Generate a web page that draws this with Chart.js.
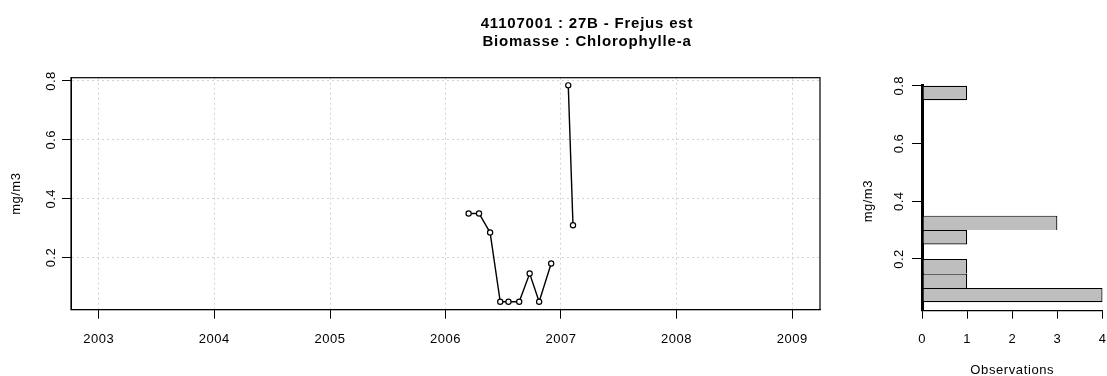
<!DOCTYPE html>
<html>
<head>
<meta charset="utf-8">
<title>41107001 : 27B - Frejus est</title>
<script src="https://cdn.jsdelivr.net/npm/chart.js@4.4.1/dist/chart.umd.min.js"></script>
<style>
  html, body { margin: 0; padding: 0; background: #fff; }
  #wrap { position: relative; width: 1107px; height: 376px; overflow: hidden; }
  #wrap canvas { position: absolute; left: 0; top: 0; }
</style>
</head>
<body>
<div id="wrap">
  <canvas id="series" width="1107" height="376"></canvas>
  <canvas id="hist" width="1107" height="376"></canvas>
</div>
<script>
// Station 41107001 (27B - Frejus est), chlorophyll-a biomass, mg/m3
const sampleDates = ['2006-03-15', '2006-04-17', '2006-05-22', '2006-06-23', '2006-07-19',
                     '2006-08-22', '2006-09-24', '2006-10-24', '2006-12-01', '2007-01-24',
                     '2007-02-08'];
const chlA = [0.35, 0.35, 0.285, 0.05, 0.05, 0.05, 0.146, 0.05, 0.18, 0.785, 0.31];

// Axis ticks
const yearTicks = [2003, 2004, 2005, 2006, 2007, 2008, 2009];
const concTicks = [0.2, 0.4, 0.6, 0.8];
const countTicks = [0, 1, 2, 3, 4];

// Histogram bin edges (mg/m3)
const binEdges = [0.05, 0.1, 0.15, 0.2, 0.25, 0.3, 0.35, 0.4, 0.45, 0.5, 0.55, 0.6,
                  0.65, 0.7, 0.75, 0.8];

const DAY = 86400000;
const toDay = s => { const [y, m, d] = s.split('-').map(Number); return Date.UTC(y, m - 1, d) / DAY; };
const yearStart = y => Date.UTC(y, 0, 1) / DAY;
const yearOfDay = d => new Date(d * DAY).getUTCFullYear();

// time axis spans the tick years, padded by 4% on each side
const span = yearStart(yearTicks[yearTicks.length - 1]) - yearStart(yearTicks[0]);
const xMin = yearStart(yearTicks[0]) - 0.04 * span;
const xMax = yearStart(yearTicks[yearTicks.length - 1]) + 0.04 * span;

const points = sampleDates.map((s, i) => ({ x: toDay(s), y: chlA[i] }));

// counts per bin, right-closed intervals (first bin includes its lower edge)
const binCounts = binEdges.slice(0, -1).map((lo, i) => {
  const hi = binEdges[i + 1];
  return chlA.filter(v => (v > lo || (i === 0 && v === lo)) && v <= hi).length;
});
const binBars = binCounts.map((c, i) => ({ x: c, y: (binEdges[i] + binEdges[i + 1]) / 2 }));

const FONT = '"Liberation Sans", Arial, Helvetica, sans-serif';

function text(ctx, s, x, y, o) {
  ctx.save();
  ctx.translate(x, y);
  if (o.rot) ctx.rotate(o.rot);
  ctx.font = o.font;
  ctx.letterSpacing = o.ls || '0px';
  ctx.textAlign = o.align || 'center';
  ctx.textBaseline = o.base || 'alphabetic';
  ctx.fillStyle = '#000';
  ctx.fillText(s, 0, 0);
  ctx.restore();
}

const tickFont = '13px ' + FONT;
const gridStyle = {
  color: '#d3d3d3', lineWidth: 1, drawTicks: true, tickLength: 9,
  tickColor: '#000', tickWidth: 1, tickBorderDash: [], offset: false
};
const fixedTicks = arr => scale => { scale.ticks = arr.map(v => ({ value: v })); };

const seriesDecor = {
  id: 'seriesDecor',
  afterDraw(chart) {
    const { ctx, chartArea: a, scales: { x, y } } = chart;
    ctx.save();
    ctx.strokeStyle = '#000';
    ctx.lineWidth = 1.2;
    ctx.strokeRect(a.left, a.top, a.right - a.left, a.bottom - a.top);
    ctx.restore();
    yearTicks.forEach(t => text(ctx, String(t), x.getPixelForValue(yearStart(t)), 343.3,
      { font: tickFont, ls: '0.5px' }));
    concTicks.forEach(t => text(ctx, t.toFixed(1), 54.5, y.getPixelForValue(t),
      { font: tickFont, rot: -Math.PI / 2, ls: '0.5px' }));
    text(ctx, 'mg/m3', 20, (a.top + a.bottom) / 2, { font: tickFont, rot: -Math.PI / 2, ls: '0.5px' });
    const tf = 'bold 15px ' + FONT;
    text(ctx, '41107001 : 27B - Frejus est', 587, 28.3, { font: tf, ls: '0.8px' });
    text(ctx, 'Biomasse : Chlorophylle-a', 587, 45.7, { font: tf, ls: '0.8px' });
  }
};

new Chart(document.getElementById('series'), {
  type: 'line',
  data: {
    datasets: [{
      data: points,
      borderColor: '#000',
      borderWidth: 1.4,
      pointRadius: 2.6,
      pointBorderWidth: 1.2,
      pointBackgroundColor: '#fff',
      pointBorderColor: '#000',
      tension: 0,
      fill: false,
      clip: 6,
      // samples from different years are not joined
      segment: {
        borderColor: c => yearOfDay(c.p0.parsed.x) === yearOfDay(c.p1.parsed.x) ? '#000' : 'rgba(0,0,0,0)'
      }
    }]
  },
  options: {
    responsive: false,
    animation: false,
    devicePixelRatio: 1,
    layout: { padding: { left: 71, right: 287, top: 77.7, bottom: 66.3 } },
    plugins: { legend: { display: false }, tooltip: { enabled: false }, title: { display: false } },
    scales: {
      x: {
        type: 'linear', min: xMin, max: xMax, offset: false,
        afterBuildTicks: scale => { scale.ticks = yearTicks.map(t => ({ value: yearStart(t) })); },
        afterFit: s => { s.height = 0; },
        ticks: { display: false },
        grid: gridStyle,
        border: { display: true, color: '#000', width: 1, dash: [2, 3] }
      },
      y: {
        type: 'linear', min: 0.023, max: 0.811, offset: false,
        afterBuildTicks: fixedTicks(concTicks),
        afterFit: s => { s.width = 0; },
        ticks: { display: false },
        grid: gridStyle,
        border: { display: true, color: '#000', width: 1, dash: [2, 3] }
      }
    }
  },
  plugins: [seriesDecor]
});

const histDecor = {
  id: 'histDecor',
  afterDraw(chart) {
    const { ctx, chartArea: a, scales: { x, y } } = chart;
    countTicks.forEach(t => text(ctx, String(t), x.getPixelForValue(t), 343.3,
      { font: tickFont, ls: '0.5px' }));
    concTicks.forEach(t => text(ctx, t.toFixed(1), 903.3, y.getPixelForValue(t),
      { font: tickFont, rot: -Math.PI / 2, ls: '0.5px' }));
    text(ctx, 'mg/m3', 872, y.getPixelForValue(0.4), { font: tickFont, rot: -Math.PI / 2, ls: '0.5px' });
    text(ctx, 'Observations', (a.left + a.right) / 2, 374.3, { font: tickFont, ls: '0.6px' });
  }
};

new Chart(document.getElementById('hist'), {
  type: 'bar',
  data: {
    datasets: [{
      data: binBars,
      backgroundColor: '#bebebe',
      borderColor: '#000',
      borderSkipped: false,
      inflateAmount: 0,
      // a shared edge between stacked bins is drawn once
      borderWidth: c => ({ left: 1.2, right: 1.2, top: 1.2,
        bottom: c.dataIndex > 0 && binCounts[c.dataIndex - 1] > 0 ? 0 : 1.2 }),
      barPercentage: 1,
      categoryPercentage: 1,
      clip: 6
    }]
  },
  options: {
    indexAxis: 'y',
    responsive: false,
    animation: false,
    devicePixelRatio: 1,
    layout: { padding: { left: 922, right: 4.5, top: 85.7, bottom: 65.3 } },
    plugins: { legend: { display: false }, tooltip: { enabled: false }, title: { display: false } },
    scales: {
      x: {
        type: 'linear', min: 0, max: 4, offset: false,
        afterBuildTicks: fixedTicks(countTicks),
        afterFit: s => { s.height = 0; },
        ticks: { display: false },
        grid: Object.assign({}, gridStyle, { drawOnChartArea: false, tickLength: 8 }),
        border: { display: true, color: '#000', width: 1.2 }
      },
      y: {
        type: 'linear', min: 0.021, max: 0.8, offset: false,
        afterBuildTicks: fixedTicks(concTicks),
        afterFit: s => { s.width = 0; },
        ticks: { display: false },
        grid: Object.assign({}, gridStyle, { drawOnChartArea: false, tickLength: 10 }),
        border: { display: true, color: '#000', width: 3 }
      }
    }
  },
  plugins: [histDecor]
});
</script>
</body>
</html>
